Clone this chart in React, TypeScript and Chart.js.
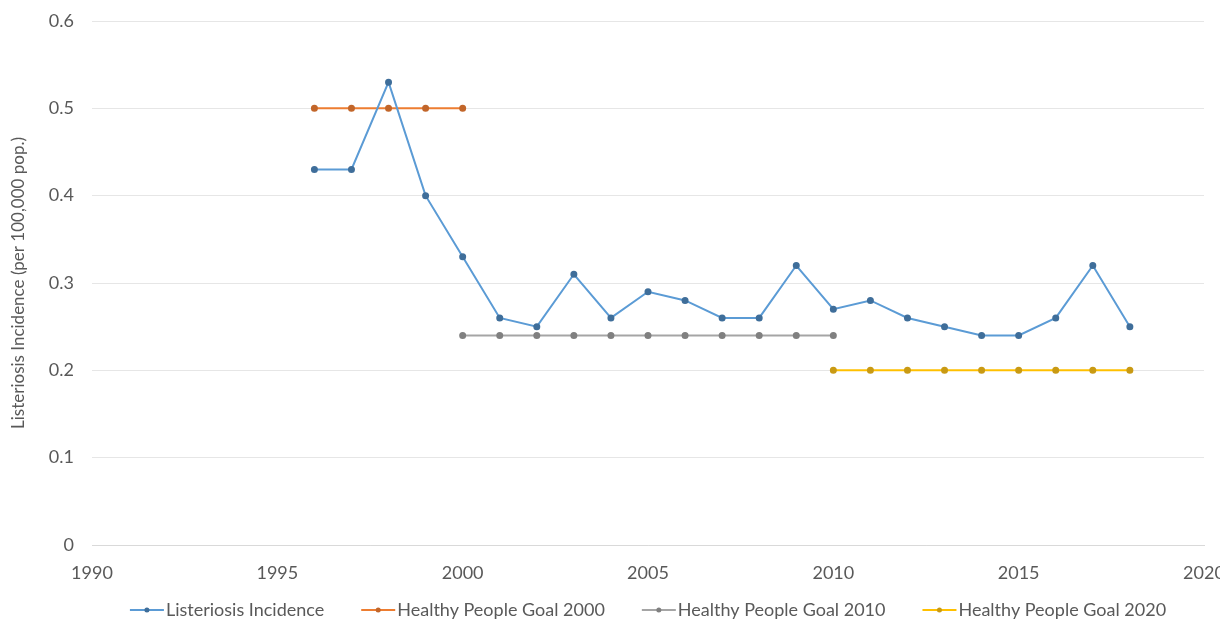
import React, { useEffect, useRef } from "react";
import { Chart, registerables } from "chart.js";

Chart.register(...registerables);

const incidenceYears = [1996, 1997, 1998, 1999, 2000, 2001, 2002, 2003, 2004, 2005, 2006, 2007, 2008, 2009, 2010, 2011, 2012, 2013, 2014, 2015, 2016, 2017, 2018];
const incidenceValues = [0.43, 0.43, 0.53, 0.40, 0.33, 0.26, 0.25, 0.31, 0.26, 0.29, 0.28, 0.26, 0.26, 0.32, 0.27, 0.28, 0.26, 0.25, 0.24, 0.24, 0.26, 0.32, 0.25];

const goal2000Years = [1996, 1997, 1998, 1999, 2000];
const goal2000Values = [0.5, 0.5, 0.5, 0.5, 0.5];

const goal2010Years = [2000, 2001, 2002, 2003, 2004, 2005, 2006, 2007, 2008, 2009, 2010];
const goal2010Values = [0.24, 0.24, 0.24, 0.24, 0.24, 0.24, 0.24, 0.24, 0.24, 0.24, 0.24];

const goal2020Years = [2010, 2011, 2012, 2013, 2014, 2015, 2016, 2017, 2018];
const goal2020Values = [0.2, 0.2, 0.2, 0.2, 0.2, 0.2, 0.2, 0.2, 0.2];

const seriesLabels = ["Listeriosis Incidence", "Healthy People Goal 2000", "Healthy People Goal 2010", "Healthy People Goal 2020"];
const yAxisTitle = "Listeriosis Incidence (per 100,000 pop.)";

const FONT = "Lato, 'Noto Sans', sans-serif";
const TEXT = "#595959";

function pts(xs: number[], ys: number[]) {
  return xs.map((x, i) => ({ x, y: ys[i] }));
}

const legendPlugin = {
  id: "customLegend",
  afterDraw(chart: any) {
    const ctx = chart.ctx;
    const area = chart.chartArea;
    const y = 610;
    ctx.save();
    ctx.font = `18px ${FONT}`;
    const symW = 34;
    const gapText = 2;
    const gapItem = 37;
    const items = chart.data.datasets.map((ds: any) => ({
      label: ds.label,
      color: ds.borderColor,
      marker: ds.pointBackgroundColor,
      w: ctx.measureText(ds.label).width,
    }));
    const total = items.reduce((s: number, it: any) => s + symW + gapText + it.w, 0) + gapItem * (items.length - 1);
    let x = (area.left + area.right) / 2 - total / 2;
    ctx.textBaseline = "middle";
    ctx.textAlign = "left";
    for (const it of items) {
      ctx.strokeStyle = it.color;
      ctx.lineWidth = 2;
      ctx.beginPath();
      ctx.moveTo(x, y);
      ctx.lineTo(x + symW, y);
      ctx.stroke();
      ctx.fillStyle = it.marker;
      ctx.beginPath();
      ctx.arc(x + symW / 2, y, 2.5, 0, Math.PI * 2);
      ctx.fill();
      ctx.fillStyle = TEXT;
      ctx.fillText(it.label, x + symW + gapText, y);
      x += symW + gapText + it.w + gapItem;
    }
    ctx.restore();
  },
};

export default function App() {
  const ref = useRef<HTMLCanvasElement | null>(null);
  useEffect(() => {
    if (!ref.current) return;
    const mk = (label: string, data: any[], color: string, marker: string) => ({
      label,
      data,
      borderColor: color,
      backgroundColor: color,
      pointBackgroundColor: marker,
      pointBorderColor: marker,
      pointRadius: 2.5,
      pointHoverRadius: 2.5,
      borderWidth: 2,
      tension: 0,
      fill: false,
    });
    const chart = new Chart(ref.current, {
      type: "line",
      data: {
        datasets: [
          mk(seriesLabels[0], pts(incidenceYears, incidenceValues), "#5B9BD5", "#3F6E9A"),
          mk(seriesLabels[1], pts(goal2000Years, goal2000Values), "#ED7D31", "#C2662A"),
          mk(seriesLabels[2], pts(goal2010Years, goal2010Values), "#A5A5A5", "#808080"),
          mk(seriesLabels[3], pts(goal2020Years, goal2020Values), "#FFC000", "#C99A14"),
        ],
      },
      options: {
        animation: false,
        responsive: false,
        maintainAspectRatio: false,
        layout: { padding: { top: 21, right: 36, bottom: 0, left: 0 } },
        plugins: { legend: { display: false }, tooltip: { enabled: false } },
        scales: {
          x: {
            type: "linear",
            min: 1990,
            max: 2020,
            ticks: { stepSize: 5, color: TEXT, font: { family: FONT, size: 18 }, padding: 17, maxRotation: 0, callback: (v: any) => String(v) },
            grid: { display: false, drawTicks: false },
            border: { display: true, color: "#D9D9D9", width: 1 },
            afterFit: (s: any) => { s.height = 74; s.paddingLeft = 0; s.paddingRight = 0; },
          },
          y: {
            min: 0,
            max: 0.6,
            ticks: { stepSize: 0.1, color: TEXT, font: { family: FONT, size: 18 }, padding: 18 },
            grid: { color: "#E6E6E6", drawTicks: false, lineWidth: 1 },
            border: { display: false },
            title: { display: true, text: yAxisTitle, color: TEXT, font: { family: FONT, size: 17 }, padding: { top: 8, bottom: 0 } },
            afterFit: (s: any) => { s.width = 92; s.paddingTop = 0; s.paddingBottom = 0; },
          },
        },
      },
      plugins: [legendPlugin],
    });
    return () => chart.destroy();
  }, []);
  return (
    <div style={{ position: "fixed", left: 0, top: 0, width: 1220, height: 619, overflow: "hidden", background: "#fff" }}>
      <canvas ref={ref} width={1240} height={619} style={{ width: 1240, height: 619, display: "block" }} />
    </div>
  );
}
